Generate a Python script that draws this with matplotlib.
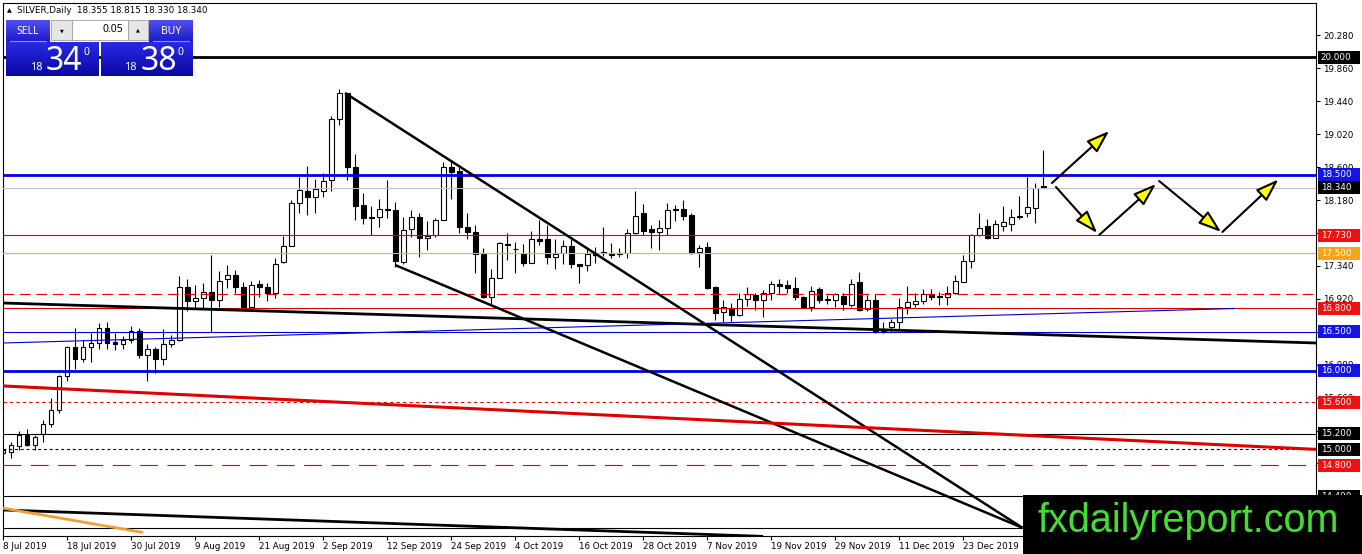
#!/usr/bin/env python
"""
SILVER daily chart, MT4 style, with levels, trend lines and projection arrows.
"""

import numpy as np
import matplotlib
matplotlib.use("Agg")
import matplotlib.pyplot as plt
from matplotlib.patches import Rectangle
from matplotlib import transforms
from matplotlib.colors import to_rgb

# daily OHLC, bar 0 = 8 Jul 2019
opens = [14.96, 14.97, 15.04, 15.18, 15.06, 15.19, 15.32, 15.50, 15.93, 16.30,
         16.15, 16.30, 16.36, 16.55, 16.37, 16.34, 16.40, 16.51, 16.21, 16.28,
         16.15, 16.34, 16.40, 17.07, 16.89, 16.93, 17.01, 16.90, 17.17, 17.23,
         17.07, 16.82, 17.11, 17.07, 16.99, 17.39, 17.60, 18.14, 18.30, 18.22,
         18.30, 18.43, 19.21, 19.54, 18.60, 18.12, 17.97, 17.96, 18.07, 18.05,
         17.39, 17.81, 17.96, 17.69, 17.74, 17.93, 18.60, 18.55, 17.84, 17.77,
         17.49, 16.94, 17.19, 17.61, 17.55, 17.49, 17.38, 17.68, 17.68, 17.45,
         17.51, 17.59, 17.37, 17.35, 17.50, 17.50, 17.51, 17.49, 17.50, 17.76,
         18.02, 17.81, 17.77, 17.82, 18.06, 18.06, 17.99, 17.52, 17.58, 17.07,
         16.75, 16.80, 16.72, 16.92, 16.97, 16.91, 17.00, 17.11, 17.10, 17.06,
         16.95, 16.82, 17.04, 16.92, 16.91, 16.96, 16.84, 17.13, 16.79, 16.91,
         16.53, 16.56, 16.62, 16.82, 16.85, 16.89, 16.98, 16.96, 16.95, 17.00,
         17.14, 17.40, 17.73, 17.85, 17.70, 17.85, 17.88, 17.96, 18.01, 18.08,
         18.355]
highs = [15.03, 15.10, 15.24, 15.26, 15.18, 15.38, 15.66, 15.95, 16.32, 16.55,
         16.40, 16.48, 16.61, 16.63, 16.48, 16.44, 16.57, 16.55, 16.35, 16.31,
         16.53, 16.46, 17.21, 17.17, 17.10, 17.12, 17.48, 17.28, 17.35, 17.29,
         17.13, 17.15, 17.16, 17.12, 17.44, 17.72, 18.18, 18.47, 18.61, 18.45,
         18.53, 19.25, 19.60, 19.55, 18.77, 18.27, 18.11, 18.20, 18.44, 18.15,
         17.97, 18.05, 18.01, 17.91, 17.95, 18.67, 18.68, 18.63, 18.01, 17.86,
         17.57, 17.30, 17.64, 17.76, 17.64, 17.62, 17.78, 17.92, 17.86, 17.68,
         17.67, 17.69, 17.37, 17.57, 17.58, 17.84, 17.63, 17.57, 17.81, 18.30,
         18.13, 17.86, 17.93, 18.14, 18.12, 18.18, 18.01, 17.61, 17.64, 17.08,
         16.91, 16.87, 17.00, 17.07, 17.00, 17.03, 17.15, 17.17, 17.16, 17.20,
         16.96, 17.08, 17.07, 16.97, 17.00, 17.00, 17.17, 17.26, 16.97, 16.98,
         16.63, 16.66, 16.93, 17.08, 16.99, 17.04, 17.04, 17.01, 17.09, 17.23,
         17.48, 17.75, 18.02, 17.94, 17.93, 18.10, 18.06, 18.23, 18.47, 18.40,
         18.815]
lows = [14.89, 14.89, 14.99, 15.04, 14.99, 15.10, 15.28, 15.47, 15.87, 16.02,
        16.11, 16.12, 16.28, 16.28, 16.27, 16.28, 16.36, 16.17, 15.87, 15.98,
        16.07, 16.31, 16.38, 16.76, 16.80, 16.79, 16.50, 16.82, 17.06, 16.99,
        16.79, 16.79, 16.95, 16.89, 16.93, 17.38, 17.59, 18.01, 17.99, 18.02,
        18.22, 18.29, 19.14, 18.44, 17.93, 17.88, 17.74, 17.84, 17.95, 17.33,
        17.36, 17.71, 17.46, 17.54, 17.71, 17.92, 18.20, 17.76, 17.68, 17.25,
        16.93, 16.86, 17.18, 17.41, 17.25, 17.34, 17.38, 17.61, 17.37, 17.30,
        17.37, 17.31, 17.12, 17.28, 17.38, 17.47, 17.44, 17.45, 17.44, 17.75,
        17.74, 17.57, 17.54, 17.74, 17.91, 17.92, 17.49, 17.33, 17.04, 16.65,
        16.63, 16.63, 16.70, 16.83, 16.78, 16.69, 16.91, 16.98, 16.99, 16.91,
        16.80, 16.76, 16.87, 16.86, 16.81, 16.78, 16.82, 16.76, 16.77, 16.49,
        16.48, 16.50, 16.54, 16.73, 16.81, 16.86, 16.91, 16.84, 16.84, 16.98,
        17.13, 17.32, 17.72, 17.68, 17.69, 17.78, 17.79, 17.94, 17.96, 17.89,
        18.33]
closes = [14.99, 15.05, 15.18, 15.06, 15.16, 15.32, 15.50, 15.93, 16.30, 16.15,
          16.30, 16.36, 16.55, 16.36, 16.34, 16.40, 16.51, 16.21, 16.28, 16.15,
          16.34, 16.40, 17.07, 16.89, 16.93, 17.01, 16.90, 17.15, 17.23, 17.07,
          16.80, 17.10, 17.07, 16.99, 17.36, 17.60, 18.14, 18.31, 18.22, 18.32,
          18.42, 19.22, 19.54, 18.60, 18.11, 17.95, 17.95, 18.06, 18.05, 17.40,
          17.80, 17.96, 17.69, 17.72, 17.93, 18.60, 18.54, 17.84, 17.77, 17.49,
          16.94, 17.18, 17.63, 17.61, 17.55, 17.38, 17.68, 17.66, 17.45, 17.49,
          17.60, 17.37, 17.34, 17.49, 17.48, 17.50, 17.48, 17.51, 17.76, 17.98,
          17.79, 17.77, 17.82, 18.05, 18.05, 17.98, 17.51, 17.57, 17.06, 16.74,
          16.81, 16.72, 16.92, 16.98, 16.90, 17.00, 17.11, 17.09, 17.06, 16.94,
          16.82, 17.02, 16.90, 16.91, 16.98, 16.86, 17.11, 16.78, 16.91, 16.50,
          16.51, 16.62, 16.82, 16.88, 16.89, 16.98, 16.95, 16.94, 17.00, 17.15,
          17.40, 17.73, 17.83, 17.70, 17.87, 17.90, 17.96, 17.98, 18.09, 18.34,
          18.34]

date_pos = [0, 8, 16, 24, 32, 40, 48, 56, 64, 72, 80, 88, 96, 104, 112, 120]
date_labels = ["8 Jul 2019", "18 Jul 2019", "30 Jul 2019", "9 Aug 2019",
               "21 Aug 2019", "2 Sep 2019", "12 Sep 2019", "24 Sep 2019",
               "4 Oct 2019", "16 Oct 2019", "28 Oct 2019", "7 Nov 2019",
               "19 Nov 2019", "29 Nov 2019", "11 Dec 2019", "23 Dec 2019"]

price_ticks = [20.28, 19.86, 19.44, 19.02, 18.60, 18.18, 17.76, 17.34,
               16.92, 16.50, 16.08, 15.66, 15.24, 14.82, 14.40]

# horizontal levels
level_prices = [20.0, 18.5, 18.34, 17.73, 17.5, 16.98, 16.8, 16.5, 16.0,
                15.6, 15.2, 15.0, 14.8, 14.4, 14.0]
level_colors = ["black", "#0000e6", "#c0c0c0", "#e00000", "#f0b030", "#dd0000",
                "#e00000", "#0000cc", "#0000e6", "#e00000", "black", "black",
                "#dd0000", "black", "black"]
level_widths = [2.0, 2.0, 0.8, 0.8, 0.8, 0.8, 0.8, 0.8, 2.0,
                0.8, 0.8, 0.8, 0.8, 0.8, 0.8]
level_styles = ["-", "-", "-", "-", "-", (0, (9.6, 5.2)), "-", "-", "-",
                (0, (2.9, 2.9)), "-", (0, (2.6, 2.6)), (0, (16, 8.6)), "-", "-"]

# price boxes on the right axis
label_prices = [20.0, 18.5, 18.34, 17.73, 17.5, 16.8, 16.5, 16.0, 15.6,
                15.2, 15.0, 14.8, 14.4]
label_colors = ["black", "#1414e6", "black", "#ee1111", "#f5a51a", "#ee1111",
                "#1414e6", "#1414e6", "#ee1111", "black", "black", "#ee1111",
                "black"]

# trend lines: (bar0, price0, bar1, price1)
trend_x0 = [42.75, 49.0, 0.0, 0.0, 0.0, 0.0, 0.0]
trend_p0 = [19.546, 17.352, 16.867, 16.357, 15.809, 14.227, 14.25]
trend_x1 = [127.4, 127.4, 164.1, 154.0, 164.1, 95.0, 17.5]
trend_p1 = [14.0, 14.0, 16.357, 16.797, 15.0, 13.89, 13.94]
trend_colors = ["black", "black", "black", "#0000cc", "#e00000", "black", "#f0a030"]
trend_widths = [1.8, 1.8, 2.0, 0.8, 2.2, 2.0, 2.0]

# projection arrows
arrow_x0 = [131.1, 131.6, 137.0, 144.5, 152.4]
arrow_p0 = [18.398, 18.347, 17.735, 18.423, 17.773]
arrow_x1 = [138.25, 136.75, 144.1, 152.25, 159.4]
arrow_p1 = [19.061, 17.760, 18.385, 17.773, 18.443]

FS = 6.3

fig = plt.figure(figsize=(13.62, 5.54), dpi=100)
ax = fig.add_axes([3 / 1362, 18 / 554, 1313 / 1362, 533 / 554])
ax.set_xlim(0, 164.1)
ax.set_ylim(13.895, 20.694)

o = np.array(opens)
h = np.array(highs)
l = np.array(lows)
c = np.array(closes)
idx = np.arange(len(o))
up = c >= o
bottoms = np.minimum(o, c)
heights = np.maximum(np.abs(c - o), 0.012)

ax.vlines(idx, l, h, color="black", lw=0.8, zorder=2)
ax.bar(idx[up], heights[up], bottom=bottoms[up], width=0.62, color="white",
       edgecolor="black", lw=0.8, zorder=2.1)
ax.bar(idx[~up], heights[~up], bottom=bottoms[~up], width=0.62, color="black",
       edgecolor="black", lw=0.8, zorder=2.1)

for p, col, lw, ls in zip(level_prices, level_colors, level_widths, level_styles):
    ax.axhline(p, color=col, lw=lw, ls=ls, zorder=3)

for x0, p0, x1, p1, col, lw in zip(trend_x0, trend_p0, trend_x1, trend_p1,
                                   trend_colors, trend_widths):
    ax.plot([x0, x1], [p0, p1], color=col, lw=lw, zorder=3.5,
            solid_capstyle="butt")

for x0, p0, x1, p1 in zip(arrow_x0, arrow_p0, arrow_x1, arrow_p1):
    ax.annotate("", xy=(x1, p1), xytext=(x0, p0), zorder=5,
                arrowprops=dict(arrowstyle="-|>,head_length=1.0,head_width=0.34",
                                mutation_scale=14, fc="#ffff00", ec="black",
                                lw=1.5, shrinkA=0, shrinkB=0))

trans = transforms.blended_transform_factory(ax.transAxes, ax.transData)
for p, col in zip(label_prices, label_colors):
    ax.add_patch(Rectangle((1.0015, p - 0.083), 0.032, 0.166, transform=trans,
                           facecolor=col, edgecolor="none", clip_on=False, zorder=6))
    ax.text(1.0035, p, f"{p:.3f}", transform=trans, color="white", va="center",
            ha="left", fontsize=FS, clip_on=False, zorder=7)

ax.yaxis.tick_right()
ax.set_yticks(price_ticks, [f"{t:.3f}" for t in price_ticks])
ax.set_xticks(date_pos, date_labels)
for t in ax.get_xticklabels():
    t.set_ha("left")
ax.tick_params(axis="y", direction="out", length=3, pad=2, labelsize=FS, width=0.8)
ax.tick_params(axis="x", direction="out", length=3, pad=1.5, labelsize=FS, width=0.8)
for s in ax.spines.values():
    s.set_color("black")
    s.set_linewidth(0.8)

# overlay in pixel coordinates for the trading panel and watermark
ov = fig.add_axes([0, 0, 1, 1])
ov.set_zorder(10)
ov.axis("off")


def grad(x0, y0, x1, y1, top, bottom):
    cols = np.linspace(to_rgb(top), to_rgb(bottom), 32)[:, None, :]
    ov.imshow(cols, extent=(x0, x1, y1, y0), aspect="auto",
              interpolation="bilinear", zorder=1)


ov.text(7, 10.5, "\u25b2", fontsize=4.5, va="center", ha="left")
ov.text(17, 10.5, f"SILVER,Daily  {opens[-1]:.3f} {highs[-1]:.3f} "
        f"{lows[-1]:.3f} {closes[-1]:.3f}", fontsize=FS, va="center", ha="left")

grad(6, 20, 50, 42, "#5050f2", "#1a1ac8")
grad(149, 20, 193, 42, "#5050f2", "#1a1ac8")
grad(6, 42, 99, 76, "#2a2ae4", "#0808a2")
grad(101, 42, 193, 76, "#2a2ae4", "#0808a2")
ov.plot([10, 46], [41, 41], color="#9090f0", lw=0.8)
ov.plot([153, 189], [41, 41], color="#9090f0", lw=0.8)
ov.text(28, 31, "SELL", color="white", fontsize=7.5, ha="center", va="center",
        family="Noto Sans")
ov.text(171, 31, "BUY", color="white", fontsize=7.5, ha="center", va="center",
        family="Noto Sans")
ov.add_patch(Rectangle((51, 20), 21, 20, facecolor="#e6e6e6", edgecolor="#a0a0a0", lw=0.6))
ov.add_patch(Rectangle((72, 20), 56, 20, facecolor="white", edgecolor="#a0a0a0", lw=0.6))
ov.add_patch(Rectangle((128, 20), 20, 20, facecolor="#e6e6e6", edgecolor="#a0a0a0", lw=0.6))
ov.text(61.5, 30.5, "\u25bc", fontsize=3.5, ha="center", va="center")
ov.text(138, 30, "\u25b2", fontsize=3.5, ha="center", va="center")
ov.text(123, 30, "0.05", fontsize=7.5, ha="right", va="center", family="Noto Sans")

for x_small, x_big, x_sup, big in [(30, 46, 83, "34"), (124, 141, 178, "38")]:
    ov.text(x_small, 70, "18", color="white", fontsize=8, ha="left",
            va="baseline", family="Noto Sans")
    ov.text(x_big, 70, big, color="white", fontsize=23, ha="left",
            va="baseline", family="Noto Sans")
    ov.text(x_sup, 55, "0", color="white", fontsize=7.5, ha="left",
            va="baseline", family="Noto Sans", fontweight="bold")

ov.add_patch(Rectangle((1023, 495), 339, 59, facecolor="black", edgecolor="none"))
ov.text(1038, 532, "fxdailyreport.com", color="#44dd33", fontsize=28.5,
        family="Liberation Sans", ha="left", va="baseline")

ov.set_xlim(0, 1362)
ov.set_ylim(554, 0)

fig.savefig("out.png", dpi=100)
